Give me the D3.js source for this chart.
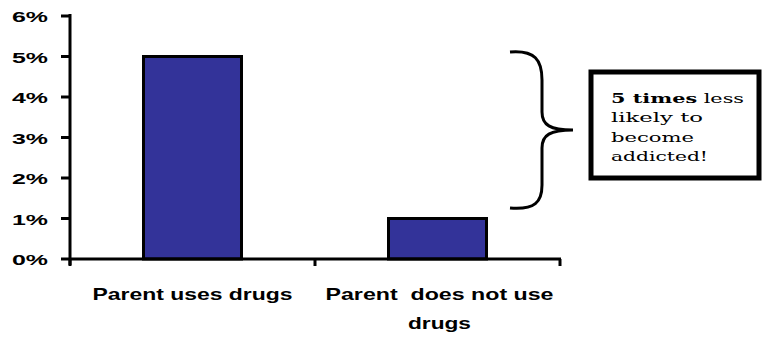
<!DOCTYPE html>
<html>
<head>
<meta charset="utf-8">
<script src="https://cdn.jsdelivr.net/npm/d3@7"></script>
<style>
    body { margin: 0; background: #fff; }
    svg { display: block; }
    .tick-label { font-family: "Liberation Sans", Arial, sans-serif; font-weight: bold; font-size: 15px; }
    .cat-label { font-family: "Liberation Sans", Arial, sans-serif; font-weight: bold; font-size: 17px; }
    .note { font-family: "DejaVu Serif", serif; font-size: 13px; }
</style>
</head>
<body>
<svg></svg>
<script>
var categories = ["Parent uses drugs", "Parent  does not use drugs"];
var values = [5, 1];
var yTicks = [0, 1, 2, 3, 4, 5, 6];
var catLines = [["Parent uses drugs"], ["Parent  does not use", "drugs"]];
var catWidths = [[200], [228, 63]];
var noteLines = [["5 times", " less"], ["", "likely to"], ["", "become"], ["", "addicted!"]];
var noteWidths = [133, 92, 83, 97];

var width = 763;
var height = 337;

var svg = d3.select("svg").attr("width", width).attr("height", height);

var x = d3.scaleBand()
    .domain(categories)
    .range([70, 560])
    .paddingInner(0.6)
    .paddingOuter(0.3);

var y = d3.scaleLinear().domain([0, 6]).range([259, 16]);

// bars
svg.selectAll(".bar")
    .data(values)
    .enter()
    .append("rect")
    .attr("class", "bar")
    .attr("x", function (d, i) { return x(categories[i]); })
    .attr("y", function (d) { return y(d); })
    .attr("width", x.bandwidth())
    .attr("height", function (d) { return y(0) - y(d); })
    .attr("fill", "#333399")
    .attr("stroke", "#000")
    .attr("stroke-width", 3);

// y axis
svg.append("line")
    .attr("x1", 70).attr("x2", 70)
    .attr("y1", y(6) - 2).attr("y2", y(0) + 6)
    .attr("stroke", "#000").attr("stroke-width", 3);

svg.selectAll(".ytick")
    .data(yTicks)
    .enter()
    .append("line")
    .attr("x1", 61).attr("x2", 70)
    .attr("y1", function (d) { return y(d); })
    .attr("y2", function (d) { return y(d); })
    .attr("stroke", "#000").attr("stroke-width", 3);

svg.selectAll(".tick-label")
    .data(yTicks)
    .enter()
    .append("text")
    .attr("class", "tick-label")
    .attr("x", 48)
    .attr("y", function (d) { return y(d) + 6; })
    .attr("text-anchor", "end")
    .attr("textLength", 36)
    .attr("lengthAdjust", "spacingAndGlyphs")
    .text(function (d) { return d + "%"; });

// x axis
svg.append("line")
    .attr("x1", 70).attr("x2", 561)
    .attr("y1", y(0)).attr("y2", y(0))
    .attr("stroke", "#000").attr("stroke-width", 3);

var xTicks = [70, (x(categories[0]) + x.bandwidth() + x(categories[1])) / 2, 560];
svg.selectAll(".xtick")
    .data(xTicks)
    .enter()
    .append("line")
    .attr("x1", function (d) { return d; })
    .attr("x2", function (d) { return d; })
    .attr("y1", y(0)).attr("y2", y(0) + 7)
    .attr("stroke", "#000").attr("stroke-width", 3);

// category labels
catLines.forEach(function (lines, i) {
    var cx = x(categories[i]) + x.bandwidth() / 2;
    lines.forEach(function (line, j) {
        svg.append("text")
            .attr("class", "cat-label")
            .attr("x", cx + (i === 1 ? 2 : 0))
            .attr("y", 300 + j * 29)
            .attr("text-anchor", "middle")
            .attr("textLength", catWidths[i][j])
            .attr("lengthAdjust", "spacingAndGlyphs")
            .style("white-space", "pre")
            .text(line);
    });
});

// brace
svg.append("path")
    .attr("d", "M510,52 C535,50 542,60 542,80 L542,112 C542,125 550,130 573,130 C550,130 542,135 542,148 L542,185 C542,202 535,210 510,208")
    .attr("fill", "none")
    .attr("stroke", "#000")
    .attr("stroke-width", 3);

// note box
svg.append("rect")
    .attr("x", 591).attr("y", 72)
    .attr("width", 168).attr("height", 106)
    .attr("fill", "#fff")
    .attr("stroke", "#000")
    .attr("stroke-width", 5);

noteLines.forEach(function (parts, i) {
    var t = svg.append("text")
        .attr("class", "note")
        .attr("x", 611)
        .attr("y", 103 + i * 19.3)
        .attr("textLength", noteWidths[i])
        .attr("lengthAdjust", "spacingAndGlyphs")
        .style("white-space", "pre");
    if (parts[0]) t.append("tspan").attr("font-weight", "bold").text(parts[0]);
    t.append("tspan").text(parts[1]);
});
</script>
</body>
</html>
